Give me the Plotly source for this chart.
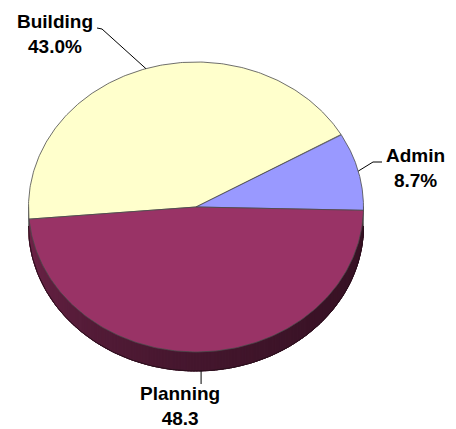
import numpy as np
import plotly.graph_objects as go

# ---- data ----
labels = ["Building", "Admin", "Planning"]
values = [43.0, 8.7, 48.3]
value_texts = ["43.0%", "8.7%", "48.3"]
colors = ["#FFFFCC", "#9999FF", "#993366"]

# ---- geometry of the tilted pie (pixel space) ----
W, H = 456, 429
CX, CY, RX, RY, DEPTH = 196.0, 207.0, 167.5, 145.0, 19.0
START = 184.8  # math angle (deg) where first slice begins, slices run clockwise


def pt(theta_deg, dy=0.0):
    t = np.radians(theta_deg)
    return CX + RX * np.cos(t), CY - RY * np.sin(t) + dy


def hex_to_rgb(h):
    h = h.lstrip("#")
    return tuple(int(h[i:i + 2], 16) for i in (0, 2, 4))


def shade(hexcol, f):
    r, g, b = hex_to_rgb(hexcol)
    return "rgb(%d,%d,%d)" % (r * f, g * f, b * f)


def side_factor(theta):
    th = theta % 360
    u = (360 - th) / 180.0
    u = min(max(u, 0), 1)
    return 0.37 + 0.38 * u ** 2.2


total = sum(values)
bounds = []
a = START
for v in values:
    b = a - v / total * 360.0
    bounds.append((a, b))
    a = b

fig = go.Figure()

# ---- side walls (front half only) ----
for (a0, a1), col in zip(bounds, colors):
    n = max(int(abs(a0 - a1) / 1.0), 1)
    angs = np.linspace(a0, a1, n + 1)
    for i in range(n):
        s, e = angs[i], angs[i + 1]
        m = (s + e) / 2
        if np.sin(np.radians(m)) >= 0:
            continue
        seg = np.linspace(s + 0.4, e - 0.4, 4)
        top = [pt(t) for t in seg]
        bot = [pt(t, DEPTH) for t in seg[::-1]]
        poly = top + bot + [top[0]]
        c = shade(col, side_factor(m))
        fig.add_trace(go.Scatter(
            x=[p[0] for p in poly], y=[p[1] for p in poly],
            mode="lines", fill="toself", fillcolor=c,
            line=dict(color=c, width=1), hoverinfo="skip"))

# bottom outline of the wall
ang = np.linspace(180, 360, 181)
bx, by = zip(*[pt(t, DEPTH) for t in ang])
fig.add_trace(go.Scatter(x=bx, y=by, mode="lines",
                         line=dict(color="#2a0f1c", width=1), hoverinfo="skip"))
for t in (180, 360):
    x0, y0 = pt(t)
    x1, y1 = pt(t, DEPTH)
    fig.add_trace(go.Scatter(x=[x0, x1], y=[y0, y1], mode="lines",
                             line=dict(color="#777777", width=1), hoverinfo="skip"))

# ---- top faces ----
for (a0, a1), col in zip(bounds, colors):
    angs = np.linspace(a0, a1, 200)
    arc = [pt(t) for t in angs]
    poly = [(CX, CY)] + arc + [(CX, CY)]
    fig.add_trace(go.Scatter(
        x=[p[0] for p in poly], y=[p[1] for p in poly],
        mode="lines", fill="toself", fillcolor=col,
        line=dict(color="#4a4a4a", width=0.8), hoverinfo="skip"))

# ---- labels with leader lines ----
label_pos = [(55, 33.5), (415, 167.5), (180, 406)]
leader_bends = [[(102, 29), (97, 28)], [(373, 162), (382, 162)], [(201, 384)]]
for (a0, a1), lab, vt, lp, bends in zip(bounds, labels, value_texts, label_pos, leader_bends):
    mid = (a0 + a1) / 2
    dy = DEPTH if np.sin(np.radians(mid)) < -0.5 else 0.0
    p0 = pt(mid, dy)
    path = [p0] + bends
    if len(bends) == 1:
        path = [p0, (p0[0], bends[0][1])]
    fig.add_trace(go.Scatter(x=[p[0] for p in path], y=[p[1] for p in path],
                             mode="lines", line=dict(color="#000000", width=1),
                             hoverinfo="skip"))
    fig.add_annotation(x=lp[0], y=lp[1], xref="x", yref="y",
                       text="<b>%s</b><br><b>%s</b>" % (lab, vt),
                       showarrow=False, xanchor="center", yanchor="middle",
                       align="center",
                       font=dict(family="Liberation Sans, Arial, sans-serif",
                                 size=19, color="#000000"))

fig.update_layout(
    width=W, height=H, margin=dict(l=0, r=0, t=0, b=0),
    paper_bgcolor="white", plot_bgcolor="white",
    showlegend=False, hovermode=False,
    xaxis=dict(range=[0, W], visible=False, fixedrange=True),
    yaxis=dict(range=[H, 0], visible=False, fixedrange=True),
)

fig.write_html("out.html")
